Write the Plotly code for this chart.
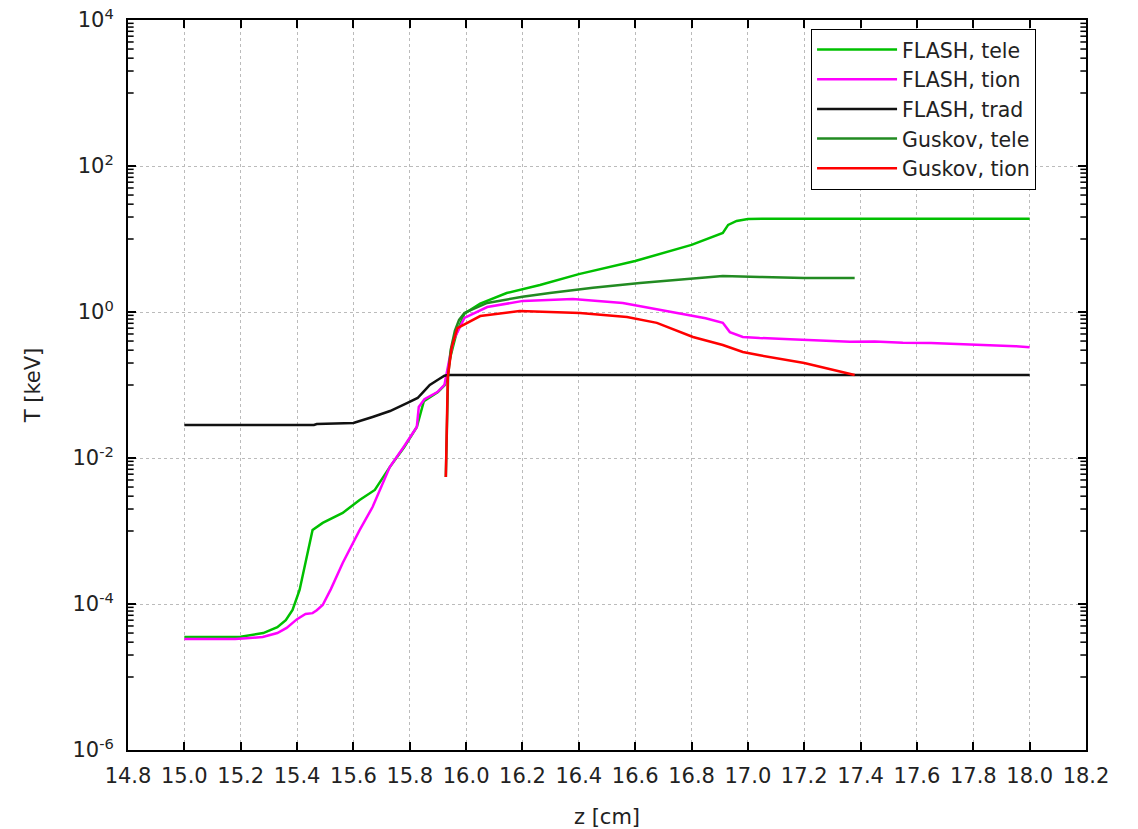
import plotly.graph_objects as go

# Temperature profiles along z: FLASH simulation vs Guskov model
z_flash_tele = [15.00, 15.20, 15.28, 15.33, 15.36, 15.384, 15.409, 15.434, 15.455, 15.491,
                15.562, 15.622, 15.676, 15.729, 15.78, 15.825, 15.85, 15.90, 15.925, 15.945,
                15.965, 15.994, 16.05, 16.144, 16.262, 16.40, 16.60, 16.80, 16.911, 16.93,
                16.96, 17.00, 17.05, 18.00]
t_flash_tele = [3.53e-5, 3.55e-5, 4.0e-5, 4.8e-5, 6.0e-5, 8.3e-5, 1.56e-4, 4.4e-4, 1.03e-3, 1.29e-3,
                1.77e-3, 2.66e-3, 3.65e-3, 7.5e-3, 1.4e-2, 2.66e-2, 6.0e-2, 8.0e-2, 0.10, 0.25,
                0.50, 0.95, 1.30, 1.82, 2.34, 3.3, 5.0, 8.3, 12.1, 15.6,
                17.7, 18.8, 18.9, 18.9]

z_flash_tion = [15.00, 15.18, 15.22, 15.278, 15.33, 15.363, 15.40, 15.43, 15.455, 15.47,
                15.491, 15.52, 15.562, 15.622, 15.668, 15.729, 15.78, 15.825, 15.832, 15.852,
                15.898, 15.923, 15.94, 15.955, 15.994, 16.075, 16.202, 16.379, 16.556, 16.734,
                16.85, 16.911, 16.936, 16.982, 17.042, 17.15, 17.25, 17.362, 17.45, 17.55,
                17.65, 17.75, 17.834, 17.90, 17.95, 18.00]
t_flash_tion = [3.32e-5, 3.32e-5, 3.4e-5, 3.53e-5, 4.0e-5, 4.7e-5, 6.2e-5, 7.3e-5, 7.5e-5, 8.2e-5,
                9.7e-5, 1.6e-4, 3.65e-4, 1.03e-3, 2.13e-3, 7.5e-3, 1.45e-2, 2.66e-2, 5.0e-2, 6.4e-2,
                8.0e-2, 0.10, 0.22, 0.41, 0.83, 1.17, 1.42, 1.51, 1.33, 1.0,
                0.82, 0.71, 0.53, 0.455, 0.44, 0.425, 0.41, 0.39, 0.395, 0.38,
                0.375, 0.365, 0.353, 0.345, 0.34, 0.33]

z_flash_trad = [15.00, 15.46, 15.47, 15.55, 15.60, 15.668, 15.73, 15.79, 15.828, 15.85,
                15.871, 15.90, 15.923, 15.935, 18.00]
t_flash_trad = [0.0283, 0.0283, 0.0292, 0.0295, 0.0301, 0.0365, 0.044, 0.0566, 0.0664, 0.082,
                0.100, 0.118, 0.134, 0.137, 0.137]

z_guskov_tele = [15.928, 15.932, 15.936, 15.945, 15.96, 15.975, 15.994, 16.075, 16.20, 16.297,
                 16.45, 16.617, 16.78, 16.911, 17.042, 17.20, 17.379]
t_guskov_tele = [5.5e-3, 0.03, 0.13, 0.30, 0.55, 0.78, 0.97, 1.33, 1.62, 1.82,
                 2.15, 2.5, 2.8, 3.11, 3.02, 2.92, 2.92]

z_guskov_tion = [15.928, 15.932, 15.935, 15.949, 15.969, 16.05, 16.19, 16.404, 16.571, 16.677,
                 16.805, 16.911, 16.982, 17.042, 17.20, 17.379]
t_guskov_tion = [5.5e-3, 0.03, 0.129, 0.33, 0.60, 0.88, 1.03, 0.97, 0.855, 0.71,
                 0.455, 0.353, 0.283, 0.255, 0.20, 0.137]

y_tick_exponents = [4, 2, 0, -2, -4, -6]
y_minor_exponents = [3, 1, -1, -3, -5]

Z_RANGE = [14.8, 18.2]
MINOR_TICK_DZ = 0.02   # minor tick length expressed along z

series = [
    ("FLASH, tele", z_flash_tele, t_flash_tele, "#00c000"),
    ("FLASH, tion", z_flash_tion, t_flash_tion, "#ff00ff"),
    ("FLASH, trad", z_flash_trad, t_flash_trad, "#111111"),
    ("Guskov, tele", z_guskov_tele, t_guskov_tele, "#228b22"),
    ("Guskov, tion", z_guskov_tion, t_guskov_tion, "#ff0000"),
]

fig = go.Figure()
for name, zs, ts, color in series:
    fig.add_trace(go.Scatter(x=zs, y=ts, mode="lines", name=name,
                             line=dict(color=color, width=2.5)))

# minor ticks on the left and right frame edges (upper decade of each labelled pair)
minor_vals = [k * 10.0 ** e for e in y_minor_exponents for k in range(1, 10)]
tick_x, tick_y = [], []
for v in minor_vals:
    tick_x += [Z_RANGE[0], Z_RANGE[0] + MINOR_TICK_DZ, None,
               Z_RANGE[1] - MINOR_TICK_DZ, Z_RANGE[1], None]
    tick_y += [v, v, None, v, v, None]
fig.add_trace(go.Scatter(x=tick_x, y=tick_y, mode="lines", showlegend=False,
                         hoverinfo="skip", line=dict(color="black", width=1.5)))

font_family = "DejaVu Sans"
grid_color = "#bbbbbb"

fig.update_layout(
    width=1138, height=829,
    margin=dict(l=128, r=52, t=20, b=79),
    paper_bgcolor="white", plot_bgcolor="white",
    font=dict(family=font_family, size=21, color="#222222"),
    showlegend=True,
    legend=dict(x=0.713, y=0.988, xanchor="left", yanchor="top",
                bgcolor="white", bordercolor="black", borderwidth=1,
                font=dict(size=20.5, color="#222222"), itemwidth=80,
                tracegroupgap=0),
)

fig.update_xaxes(
    range=Z_RANGE, dtick=0.2, tick0=14.8, tickformat=".1f",
    ticks="inside", ticklen=8, tickwidth=1.5, tickcolor="black",
    showline=True, linecolor="black", linewidth=2, mirror="ticks",
    showgrid=True, gridcolor=grid_color, griddash="dot", gridwidth=1,
    zeroline=False, ticklabelstandoff=6, automargin=False,
    title=dict(text="z [cm]", font=dict(size=21), standoff=22),
)

fig.update_yaxes(
    type="log", range=[-6, 4],
    tickmode="array",
    tickvals=[10.0 ** e for e in y_tick_exponents],
    ticktext=[f"10<sup>{e}</sup>" for e in y_tick_exponents],
    ticks="inside", ticklen=8, tickwidth=1.5, tickcolor="black",
    showline=True, linecolor="black", linewidth=2, mirror="ticks",
    showgrid=True, gridcolor=grid_color, griddash="dot", gridwidth=1,
    zeroline=False, ticklabelstandoff=8, automargin=False,
    title=dict(text="T [keV]", font=dict(size=21), standoff=26),
)

fig.write_html("out.html")
